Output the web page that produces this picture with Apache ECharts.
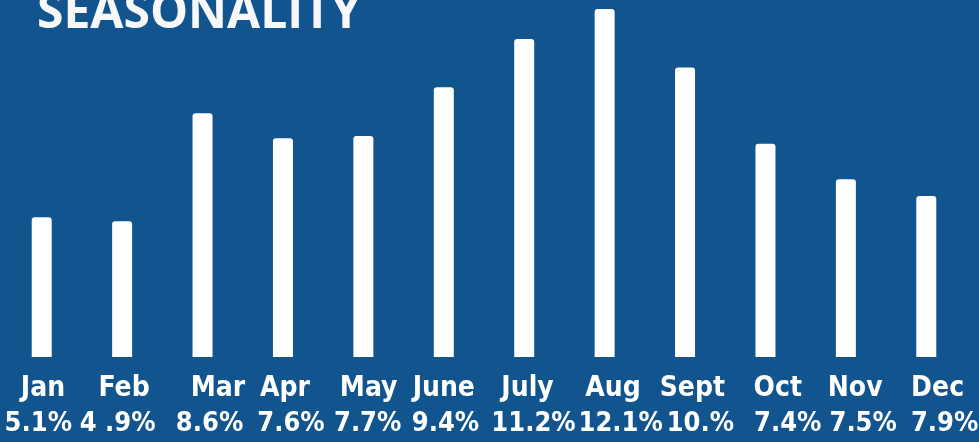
<!DOCTYPE html>
<html><head><meta charset="utf-8">
<script src="https://cdn.jsdelivr.net/npm/echarts@6/dist/echarts.min.js"></script>
<style>html,body{margin:0;padding:0;background:#11548e;overflow:hidden}#c{width:979px;height:442px}</style>
</head><body><div id="c"></div>
<script>
// ---- data ----
const titleText = 'SEASONALITY';
const months = ['Jan','Feb','Mar','Apr','May','June','July','Aug','Sept','Oct','Nov','Dec'];
const percentLabels = ['5.1%','4 .9%','8.6%','7.6%','7.7%','9.4%','11.2%','12.1%','10.%','7.4%','7.5%','7.9%'];
const barHeights = [4.86,4.72,8.47,7.60,7.68,9.38,11.05,12.1,10.06,7.41,6.18,5.60];

// ---- layout (label shifts in px relative to each bar) ----
const monthShift = [1.3,2,15.5,2,5.3,0,3.3,8.3,7.3,12.3,9.3,11.3];
const pctShift = [-3.4,-4.5,7,8,4.3,1.7,9.3,16,15.3,22.3,17.3,18.3];
const FONT = "'Liberation Sans Narrow','Arial Narrow','DejaVu Sans Condensed',sans-serif";

function pad(dx){ return dx >= 0 ? [0,0,0,2*dx] : [0,-2*dx,0,0]; }
const rich = {};
months.forEach((m,i)=>{
  rich['m'+i] = {color:'#fff',fontFamily:FONT,fontWeight:'bold',fontSize:28,lineHeight:35,padding:pad(monthShift[i])};
  rich['p'+i] = {color:'#fff',fontFamily:FONT,fontWeight:'bold',fontSize:27,lineHeight:35,padding:pad(pctShift[i])};
});

const chart = echarts.init(document.getElementById('c'), null, {renderer:'canvas'});
chart.setOption({
  backgroundColor:'#11548e',
  animation:false,
  grid:{left:1.5,right:12.5,top:0,bottom:85,containLabel:false,outerBoundsMode:'none'},
  xAxis:{
    type:'category',
    data:months,
    axisLine:{show:false},axisTick:{show:false},splitLine:{show:false},
    axisLabel:{
      interval:0,margin:14,hideOverlap:false,
      formatter:(v,i)=>'{m'+i+'|'+v+'}\n{p'+i+'|'+percentLabels[i]+'}',
      rich:rich
    }
  },
  yAxis:{type:'value',min:0,max:12.41,show:false,splitLine:{show:false}},
  series:[{
    type:'bar',
    data:barHeights,
    barWidth:20,
    itemStyle:{color:'#ffffff',borderRadius:[3,3,0,0]}
  }],
  graphic:[{
    type:'text',left:37,top:-10,
    style:{text:titleText,fill:'#f8f8f8',font:"bold 48px 'Open Sans', sans-serif"}
  }]
});
</script>
</body></html>
